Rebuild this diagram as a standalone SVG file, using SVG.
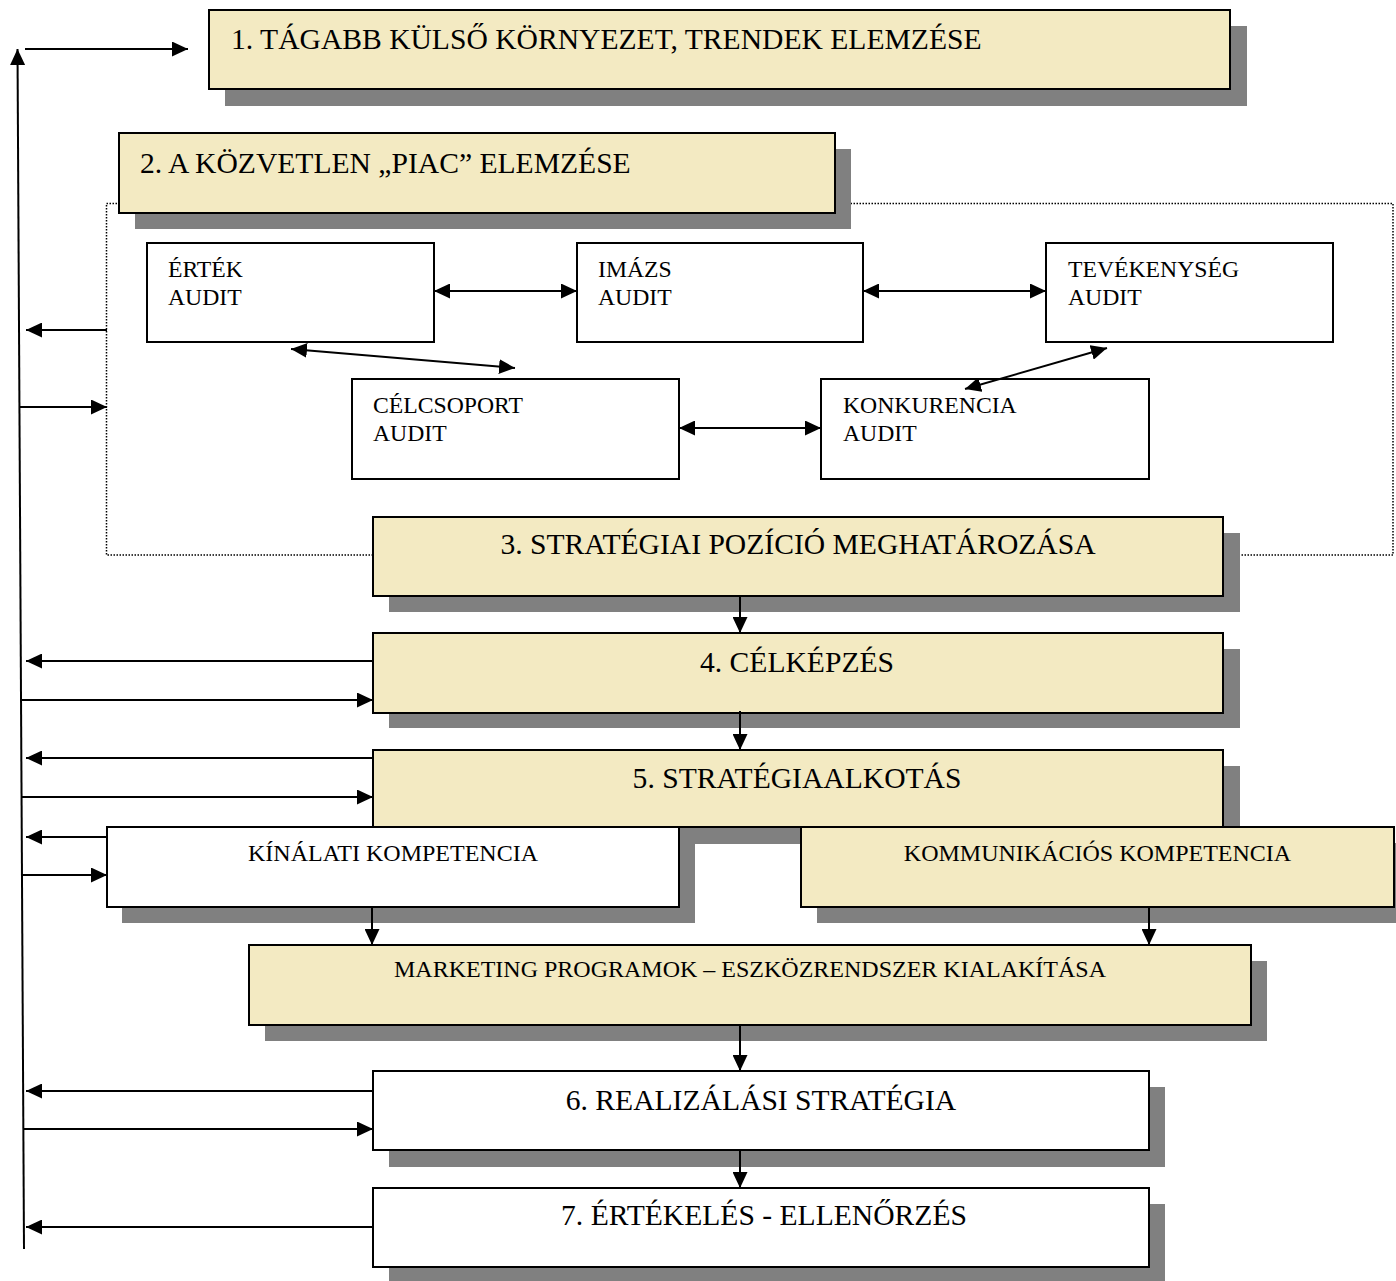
<svg xmlns="http://www.w3.org/2000/svg" width="1396" height="1281" viewBox="0 0 1396 1281">
<style>
.bg{fill:#ffffff}
.sh{fill:#808080}
.tan{fill:#F3EAC2;stroke:#000;stroke-width:2}
.wht{fill:#ffffff;stroke:#000;stroke-width:2}
.t{font-family:"Liberation Serif","Times New Roman",serif;fill:#000}
.big{font-size:29.6px}
.mid{font-size:24px}
.aud{font-size:23.7px}
.c{text-anchor:middle}
.ln{stroke:#000;stroke-width:2;fill:none}
.one{marker-end:url(#ah)}
.two{marker-end:url(#ah);marker-start:url(#ah)}
.dot{fill:none;stroke:#000;stroke-width:1.5;stroke-dasharray:1.5 1.5}
</style>
<defs>
<marker id="ah" markerUnits="userSpaceOnUse" markerWidth="16" markerHeight="15" refX="16" refY="7.5" orient="auto-start-reverse" viewBox="0 0 16 15">
<path d="M0,0 L16,7.5 L0,15 Z" fill="#000"/>
</marker>
</defs>
<rect class="bg" x="0" y="0" width="1396" height="1281"/>

<g id="market-frame">
<rect class="dot" x="106.5" y="203.5" width="1286.5" height="351.5"/>
</g>

<g id="n1">
<rect class="sh" x="225" y="26" width="1022" height="80"/>
<rect class="tan" x="209" y="10" width="1021" height="79"/>
<text class="t big" x="231" y="49">1. TÁGABB KÜLSŐ KÖRNYEZET, TRENDEK ELEMZÉSE</text>
</g>

<g id="n2">
<rect class="sh" x="135" y="149" width="716" height="80"/>
<rect class="tan" x="119" y="133" width="716" height="80"/>
<text class="t big" x="140" y="173">2. A KÖZVETLEN „PIAC” ELEMZÉSE</text>
</g>

<g id="audit-ertek">
<rect class="wht" x="147" y="243" width="287" height="99"/>
<text class="t aud" x="168" y="277">ÉRTÉK</text>
<text class="t aud" x="168" y="305">AUDIT</text>
</g>
<g id="audit-imazs">
<rect class="wht" x="577" y="243" width="286" height="99"/>
<text class="t aud" x="598" y="277">IMÁZS</text>
<text class="t aud" x="598" y="305">AUDIT</text>
</g>
<g id="audit-tevekenyseg">
<rect class="wht" x="1046" y="243" width="287" height="99"/>
<text class="t aud" x="1068" y="277">TEVÉKENYSÉG</text>
<text class="t aud" x="1068" y="305">AUDIT</text>
</g>
<g id="audit-celcsoport">
<rect class="wht" x="352" y="379" width="327" height="100"/>
<text class="t aud" x="373" y="413">CÉLCSOPORT</text>
<text class="t aud" x="373" y="441">AUDIT</text>
</g>
<g id="audit-konkurencia">
<rect class="wht" x="821" y="379" width="328" height="100"/>
<text class="t aud" x="843" y="413">KONKURENCIA</text>
<text class="t aud" x="843" y="441">AUDIT</text>
</g>

<g id="n3">
<rect class="sh" x="389" y="533" width="851" height="79"/>
<rect class="tan" x="373" y="517" width="850" height="79"/>
<text class="t big c" x="798" y="554">3. STRATÉGIAI POZÍCIÓ MEGHATÁROZÁSA</text>
</g>

<g id="n4">
<rect class="sh" x="389" y="649" width="851" height="79"/>
<rect class="tan" x="373" y="633" width="850" height="80"/>
<text class="t big c" x="797" y="672">4. CÉLKÉPZÉS</text>
</g>

<g id="n5">
<rect class="sh" x="389" y="766" width="851" height="78"/>
<rect class="tan" x="373" y="750" width="850" height="77"/>
<text class="t big c" x="797" y="788">5. STRATÉGIAALKOTÁS</text>
</g>

<g id="n5a">
<rect class="sh" x="122" y="843" width="573" height="80"/>
<rect class="wht" x="107" y="827" width="572" height="80"/>
<text class="t mid c" x="393" y="861">KÍNÁLATI KOMPETENCIA</text>
</g>

<g id="n5b">
<rect class="sh" x="817" y="843" width="580" height="80"/>
<rect class="tan" x="801" y="827" width="593" height="80"/>
<text class="t mid c" x="1097.5" y="861">KOMMUNIKÁCIÓS KOMPETENCIA</text>
</g>

<g id="n5c">
<rect class="sh" x="265" y="961" width="1002" height="80"/>
<rect class="tan" x="249" y="945" width="1002" height="80"/>
<text class="t mid c" x="750" y="977">MARKETING PROGRAMOK – ESZKÖZRENDSZER KIALAKÍTÁSA</text>
</g>

<g id="n6">
<rect class="sh" x="389" y="1087" width="776" height="80"/>
<rect class="wht" x="373" y="1071" width="776" height="79"/>
<text class="t big c" x="761" y="1110">6. REALIZÁLÁSI STRATÉGIA</text>
</g>

<g id="n7">
<rect class="sh" x="389" y="1204" width="776" height="80"/>
<rect class="wht" x="373" y="1188" width="776" height="79"/>
<text class="t big c" x="764" y="1225">7. ÉRTÉKELÉS - ELLENŐRZÉS</text>
</g>

<g id="connectors">
<line class="ln one" x1="24" y1="1249" x2="17.5" y2="49"/>
<line class="ln one" x1="25" y1="49" x2="188" y2="49"/>
<line class="ln one" x1="107" y1="330" x2="26" y2="330"/>
<line class="ln one" x1="19.5" y1="407" x2="107" y2="407"/>
<line class="ln two" x1="434" y1="291" x2="577" y2="291"/>
<line class="ln two" x1="863" y1="291" x2="1046" y2="291"/>
<line class="ln two" x1="679" y1="428" x2="821" y2="428"/>
<line class="ln two" x1="291" y1="349" x2="515" y2="368"/>
<line class="ln two" x1="1107" y1="348" x2="965" y2="389"/>
<line class="ln one" x1="740" y1="596" x2="740" y2="633"/>
<line class="ln one" x1="740" y1="711" x2="740" y2="750"/>
<line class="ln one" x1="372" y1="907" x2="372" y2="945"/>
<line class="ln one" x1="1149" y1="907" x2="1149" y2="945"/>
<line class="ln one" x1="740" y1="1025" x2="740" y2="1071"/>
<line class="ln one" x1="740" y1="1150" x2="740" y2="1188"/>
<line class="ln one" x1="373" y1="661" x2="26" y2="661"/>
<line class="ln one" x1="21" y1="700" x2="373" y2="700"/>
<line class="ln one" x1="373" y1="758" x2="26" y2="758"/>
<line class="ln one" x1="21.5" y1="797" x2="373" y2="797"/>
<line class="ln one" x1="107" y1="837" x2="26" y2="837"/>
<line class="ln one" x1="22" y1="875" x2="107" y2="875"/>
<line class="ln one" x1="373" y1="1091" x2="26" y2="1091"/>
<line class="ln one" x1="23.5" y1="1129" x2="373" y2="1129"/>
<line class="ln one" x1="373" y1="1227" x2="26" y2="1227"/>
</g>
</svg>
